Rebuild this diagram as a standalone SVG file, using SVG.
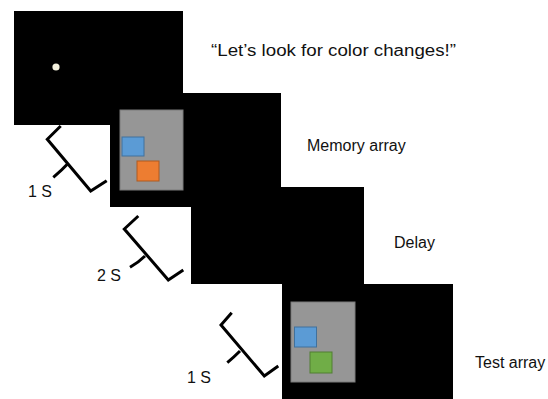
<svg xmlns="http://www.w3.org/2000/svg" width="548" height="399" viewBox="0 0 548 399">
<style>
.screen{fill:#000}
.panel{fill:#969696;stroke:#7a7a7a;stroke-width:1}
.blue{fill:#5b9bd5;stroke:#41719c;stroke-width:1}
.orange{fill:#ed7d31;stroke:#ae5a21;stroke-width:1}
.green{fill:#70ad47;stroke:#507e32;stroke-width:1}
.br{fill:none;stroke:#000;stroke-width:3;stroke-linejoin:miter;stroke-linecap:butt}
text{font-family:"Liberation Sans",Arial,sans-serif;font-size:16px;fill:#111}
</style>
<rect width="548" height="399" fill="#fff"/>
<g id="screen1">
<rect class="screen" x="14" y="11" width="169" height="114"/>
<circle cx="56" cy="67" r="3.6" fill="#f4f1de"/>
</g>
<g id="screen2">
<rect class="screen" x="110" y="93" width="171" height="114"/>
<rect class="panel" x="120" y="110" width="63" height="80"/>
<rect class="blue" x="122" y="137" width="22" height="19"/>
<rect class="orange" x="137" y="161" width="22" height="20"/>
</g>
<g id="screen3">
<rect class="screen" x="191" y="187" width="173" height="97"/>
</g>
<g id="screen4">
<rect class="screen" x="282" y="284" width="171" height="118"/>
<rect class="panel" x="291" y="302" width="64" height="80"/>
<rect class="blue" x="294.5" y="327" width="22" height="20"/>
<rect class="green" x="310" y="352" width="22" height="21"/>
</g>
<g id="connectors">
<path class="br" d="M60.7 126 L47.3 139.3 L90.7 191 L106.7 180.7"/>
<path class="br" d="M68 163.5 Q62 170 53.3 177.3"/>
<path class="br" d="M138.3 216 L124.3 229 L168.3 280 L183.3 270"/>
<path class="br" d="M145 256 Q139 262 130 267.3"/>
<path class="br" d="M231.7 312.7 L221 325 L264.3 376 L278.3 366"/>
<path class="br" d="M240 351 Q234 357 227.3 362.7"/>
</g>
<g id="labels">
<text x="211" y="56" textLength="245" lengthAdjust="spacingAndGlyphs">“Let’s look for color changes!”</text>
<text x="307" y="151">Memory array</text>
<text x="394" y="248">Delay</text>
<text x="475" y="368">Test array</text>
<text x="28" y="197">1 S</text>
<text x="97" y="281">2 S</text>
<text x="187" y="383">1 S</text>
</g>
</svg>
